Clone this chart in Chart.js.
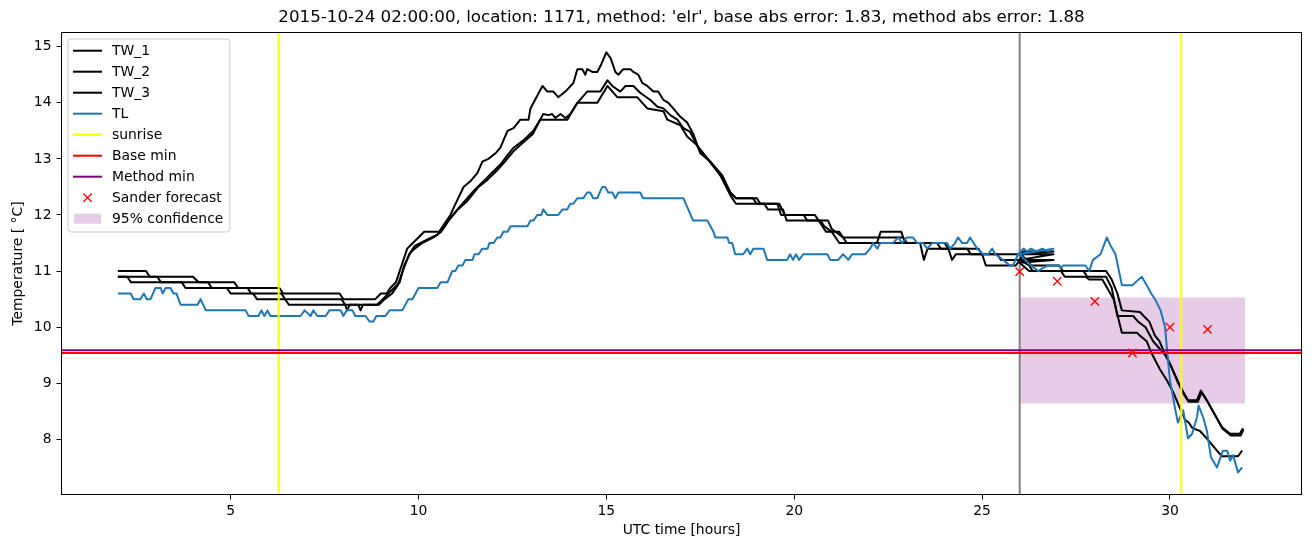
<!DOCTYPE html>
<html>
<head>
<meta charset="utf-8">
<script src="https://cdn.jsdelivr.net/npm/chart.js@4.4.1/dist/chart.umd.min.js"></script>
<style>
  html, body { margin: 0; padding: 0; background: #fff; }
  #wrap { width: 1311px; height: 547px; }
</style>
</head>
<body>
<div id="wrap"><canvas id="c" width="1311" height="547"></canvas></div>
<script>
// ---------------- data ----------------
const TITLE = "2015-10-24 02:00:00, location: 1171, method: 'elr', base abs error: 1.83, method abs error: 1.88";
const X_LABEL = "UTC time [hours]";
const Y_LABEL = "Temperature [ °C]";
const X_TICKS = [5, 10, 15, 20, 25, 30];
const Y_TICKS = [8, 9, 10, 11, 12, 13, 14, 15];
const X_MIN = 0.5, X_MAX = 33.5;
const Y_MIN = 7.018, Y_MAX = 15.253;

// [hour, temperature] ; observation part (2..27 h) followed by forecast-period part (26..32 h)
const TW_1 = [[2.0,11.0],[2.75,11.0],[2.85,10.9],[4.0,10.9],[4.15,10.8],[5.1,10.8],[5.2,10.7],[6.3,10.7],[6.4,10.6],[7.9,10.6],[8.0,10.5],[8.85,10.5],[9.0,10.6],[9.15,10.6],[9.25,10.7],[9.4,10.8],[9.55,11.1],[9.7,11.4],[9.85,11.5],[10.0,11.6],[10.15,11.7],[10.55,11.7],[10.7,11.85],[10.85,12.0],[10.95,12.15],[11.2,12.5],[11.38,12.6],[11.57,12.75],[11.7,12.95],[11.86,13.0],[12.05,13.1],[12.18,13.2],[12.37,13.5],[12.53,13.55],[12.71,13.7],[12.93,13.7],[12.98,13.9],[13.3,14.3],[13.43,14.2],[13.59,14.2],[13.72,14.1],[13.91,14.2],[14.12,14.35],[14.23,14.6],[14.36,14.6],[14.44,14.5],[14.49,14.6],[14.63,14.55],[14.76,14.55],[14.84,14.65],[15.0,14.9],[15.11,14.8],[15.24,14.55],[15.32,14.5],[15.45,14.6],[15.64,14.6],[15.72,14.55],[15.85,14.5],[15.96,14.35],[16.09,14.3],[16.25,14.2],[16.38,14.2],[16.52,14.05],[16.65,14.0],[16.78,13.9],[16.97,13.75],[17.15,13.65],[17.31,13.45],[17.5,13.1],[17.77,12.95],[18.09,12.7],[18.3,12.4],[18.45,12.3],[18.9,12.3],[19.0,12.2],[19.55,12.2],[19.65,12.0],[20.25,12.0],[20.35,11.9],[20.65,11.9],[20.75,11.8],[20.85,11.7],[21.2,11.7],[21.3,11.6],[22.9,11.6],[23.0,11.5],[24.0,11.5],[24.1,11.4],[24.9,11.4],[25.0,11.3],[26.0,11.3],[26.1,11.35],[26.9,11.35],
  [26.0,11.3],[26.2,11.2],[26.3,11.1],[27.05,11.1],[27.15,11.0],[28.3,11.0],[28.45,10.85],[28.6,10.6],[28.72,10.3],[29.2,10.27],[29.3,10.2],[29.45,10.1],[29.6,9.85],[29.72,9.75],[29.85,9.55],[30.0,9.35],[30.2,9.05],[30.35,8.85],[30.48,8.7],[30.72,8.7],[30.82,8.87],[30.98,8.7],[31.38,8.22],[31.6,8.1],[31.86,8.1],[31.94,8.2]];

const TW_2 = [[2.0,10.9],[2.25,10.9],[2.35,10.8],[3.7,10.8],[3.8,10.7],[4.9,10.7],[5.0,10.6],[6.35,10.6],[6.45,10.5],[7.95,10.5],[8.05,10.4],[8.9,10.4],[9.05,10.5],[9.2,10.6],[9.35,10.7],[9.5,10.8],[9.62,11.1],[9.8,11.35],[9.9,11.45],[10.2,11.55],[10.5,11.65],[10.7,11.8],[10.85,11.95],[11.1,12.15],[11.3,12.3],[11.5,12.45],[11.73,12.6],[11.95,12.75],[12.18,12.9],[12.35,13.05],[12.53,13.2],[12.79,13.33],[13.06,13.5],[13.24,13.7],[13.32,13.8],[13.46,13.78],[13.56,13.8],[13.64,13.73],[13.78,13.8],[13.91,13.73],[14.04,13.8],[14.23,14.0],[14.49,14.2],[14.84,14.2],[15.03,14.4],[15.16,14.3],[15.37,14.2],[15.51,14.3],[15.72,14.3],[15.9,14.18],[16.17,14.05],[16.36,13.93],[16.52,13.9],[16.7,13.78],[16.89,13.7],[17.05,13.55],[17.23,13.48],[17.45,13.2],[17.75,12.95],[18.1,12.65],[18.3,12.4],[18.45,12.3],[19.0,12.3],[19.1,12.2],[19.6,12.2],[19.75,12.0],[20.55,12.0],[20.65,11.9],[20.9,11.9],[21.0,11.75],[21.3,11.6],[21.4,11.5],[23.35,11.5],[23.45,11.2],[23.55,11.4],[24.1,11.4],[24.2,11.2],[24.3,11.3],[25.4,11.3],[25.5,11.2],[26.0,11.2],[26.1,11.3],[26.9,11.3],
  [26.0,11.2],[26.25,11.1],[26.35,11.0],[27.7,11.0],[27.8,10.9],[28.3,10.9],[28.45,10.7],[28.6,10.2],[29.02,10.2],[29.15,10.1],[29.35,10.0],[29.55,9.75],[29.72,9.62],[29.88,9.5],[30.03,9.3],[30.22,9.0],[30.37,8.8],[30.5,8.67],[30.74,8.67],[30.84,8.84],[31.0,8.67],[31.4,8.19],[31.62,8.07],[31.88,8.07],[31.96,8.18]];

const TW_3 = [[2.0,10.9],[3.05,10.9],[3.15,10.8],[4.4,10.8],[4.5,10.7],[5.45,10.7],[5.55,10.6],[5.6,10.6],[5.7,10.5],[6.45,10.5],[6.55,10.4],[8.05,10.4],[8.1,10.3],[8.17,10.4],[8.4,10.4],[8.46,10.3],[8.52,10.4],[8.95,10.4],[9.1,10.5],[9.3,10.6],[9.45,10.75],[9.58,11.0],[9.75,11.3],[9.9,11.4],[10.1,11.5],[10.4,11.6],[10.6,11.7],[10.8,11.9],[11.05,12.1],[11.3,12.25],[11.6,12.5],[11.84,12.63],[12.1,12.8],[12.3,12.95],[12.55,13.15],[12.8,13.3],[13.05,13.45],[13.24,13.7],[13.96,13.7],[14.23,14.0],[14.76,14.0],[15.03,14.3],[15.29,14.1],[15.82,14.1],[16.09,13.9],[16.52,13.85],[16.62,13.7],[16.97,13.6],[17.15,13.4],[17.4,13.25],[17.7,13.0],[18.0,12.75],[18.3,12.35],[18.45,12.2],[19.2,12.2],[19.3,12.1],[19.7,12.1],[19.8,11.9],[20.7,11.9],[20.8,11.8],[21.0,11.7],[21.2,11.5],[22.2,11.5],[22.3,11.7],[22.85,11.7],[22.95,11.5],[23.8,11.5],[23.9,11.4],[24.6,11.4],[24.7,11.3],[25.0,11.3],[25.1,11.1],[25.9,11.1],[26.0,11.2],[26.9,11.2],
  [26.0,11.15],[26.25,11.0],[27.1,11.0],[27.2,10.9],[27.75,10.9],[27.85,10.85],[28.2,10.85],[28.5,10.5],[28.72,9.9],[29.12,9.9],[29.2,9.85],[29.38,9.75],[29.5,9.55],[29.73,9.25],[29.92,9.05],[30.08,8.85],[30.27,8.55],[30.4,8.35],[30.5,8.3],[30.6,8.2],[30.8,8.15],[31.0,8.0],[31.25,7.8],[31.38,7.7],[31.81,7.7],[31.92,7.8]];

const TL = [[2.0,10.6],[2.34,10.6],[2.42,10.5],[2.6,10.5],[2.69,10.6],[2.77,10.5],[2.87,10.5],[3.0,10.7],[3.14,10.7],[3.19,10.6],[3.27,10.7],[3.4,10.7],[3.48,10.6],[3.56,10.6],[3.67,10.4],[4.12,10.4],[4.2,10.5],[4.34,10.3],[5.4,10.3],[5.48,10.2],[5.74,10.2],[5.82,10.3],[5.9,10.2],[5.98,10.3],[6.06,10.2],[6.86,10.2],[6.97,10.3],[7.13,10.2],[7.2,10.3],[7.31,10.2],[7.53,10.2],[7.63,10.3],[7.93,10.3],[8.0,10.2],[8.09,10.3],[8.24,10.3],[8.32,10.2],[8.59,10.2],[8.7,10.1],[8.8,10.1],[8.88,10.2],[9.12,10.2],[9.23,10.3],[9.57,10.3],[9.73,10.5],[9.84,10.5],[10.0,10.7],[10.5,10.7],[10.59,10.8],[10.77,10.8],[10.9,11.0],[10.98,11.0],[11.06,11.1],[11.17,11.1],[11.25,11.2],[11.44,11.2],[11.49,11.3],[11.6,11.3],[11.7,11.4],[11.84,11.4],[11.89,11.5],[12.0,11.5],[12.1,11.6],[12.18,11.6],[12.26,11.7],[12.37,11.7],[12.45,11.8],[12.9,11.8],[12.98,11.9],[13.06,11.9],[13.16,12.0],[13.27,12.0],[13.32,12.1],[13.43,12.0],[13.72,12.0],[13.83,12.1],[13.96,12.1],[14.04,12.2],[14.12,12.2],[14.23,12.3],[14.39,12.3],[14.49,12.4],[14.57,12.4],[14.65,12.3],[14.76,12.3],[14.89,12.5],[14.97,12.5],[15.05,12.4],[15.16,12.4],[15.24,12.3],[15.32,12.4],[15.9,12.4],[15.98,12.3],[17.05,12.3],[17.18,12.1],[17.31,11.9],[17.69,11.9],[17.77,11.8],[17.85,11.7],[17.9,11.6],[18.22,11.6],[18.27,11.5],[18.35,11.5],[18.43,11.3],[18.64,11.3],[18.75,11.4],[18.83,11.3],[18.91,11.4],[19.18,11.4],[19.28,11.2],[19.81,11.2],[19.89,11.3],[19.97,11.2],[20.05,11.3],[20.13,11.2],[20.24,11.3],[20.88,11.3],[20.96,11.2],[21.17,11.2],[21.3,11.3],[21.44,11.2],[21.54,11.3],[21.89,11.3],[22.02,11.4],[22.1,11.5],[22.21,11.4],[22.29,11.5],[22.63,11.5],[22.77,11.6],[22.87,11.5],[23.0,11.6],[23.16,11.6],[23.27,11.5],[23.43,11.5],[23.54,11.4],[23.67,11.5],[24.07,11.5],[24.15,11.4],[24.28,11.5],[24.36,11.6],[24.47,11.5],[24.6,11.5],[24.68,11.6],[24.87,11.4],[25.03,11.3],[25.16,11.3],[25.27,11.4],[25.35,11.3],[25.56,11.2],[25.74,11.1],[25.82,11.1],[25.96,11.3],[26.1,11.4],[26.2,11.35],[26.3,11.4],[26.45,11.35],[26.6,11.4],[26.75,11.35],[26.9,11.4],
  [26.0,11.3],[26.15,11.2],[26.3,11.1],[26.5,11.0],[26.6,11.05],[26.75,11.1],[27.05,11.1],[27.1,11.05],[27.15,11.1],[27.75,11.1],[27.85,11.0],[27.95,11.2],[28.15,11.3],[28.32,11.6],[28.42,11.45],[28.55,11.3],[28.72,10.75],[29.0,10.75],[29.25,10.9],[29.38,10.75],[29.5,10.6],[29.6,10.5],[29.75,10.3],[29.87,10.0],[29.92,9.6],[30.0,9.05],[30.13,8.57],[30.21,8.3],[30.35,8.52],[30.48,8.02],[30.59,8.1],[30.72,8.4],[30.76,8.6],[30.88,8.4],[30.98,8.16],[31.09,7.68],[31.25,7.5],[31.41,7.8],[31.52,7.8],[31.6,7.62],[31.68,7.72],[31.81,7.41],[31.92,7.5]];

const SUNRISE = [6.28, 30.3];
const FORECAST_START = 26.0;
const BASE_MIN = 9.54;
const METHOD_MIN = 9.59;
const SANDER_HOURS = [26, 27, 28, 29, 30, 31];
const SANDER_VALUES = [10.99, 10.82, 10.46, 9.54, 10.0, 9.96];
const CONF_HOURS = [26, 32];
const CONF_LOW = 8.64;
const CONF_HIGH = 10.53;

// ---------------- build datasets from the arrays ----------------
const pts = arr => arr.map(p => ({x: p[0], y: p[1]}));
const vlines = xs => xs.flatMap(v => [{x: v, y: Y_MIN}, {x: v, y: Y_MAX}, {x: v, y: null}]);
const hline = v => [{x: X_MIN, y: v}, {x: X_MAX, y: v}];
const LW = 2;
const FS = 13.9;      // 10 pt
const FS_TITLE = 16.7; // 12 pt
const lineDs = (label, data, color, order, kind) => ({
  label, data, borderColor: color, backgroundColor: color, borderWidth: LW,
  pointRadius: 0, fill: false, tension: 0, order, legendKind: kind,
  borderJoinStyle: 'round', spanGaps: false
});

const datasets = [
  lineDs('TW_1', pts(TW_1), '#000000', 80, 'line'),
  lineDs('TW_2', pts(TW_2), '#000000', 79, 'line'),
  lineDs('TW_3', pts(TW_3), '#000000', 78, 'line'),
  lineDs('TL', pts(TL), '#1f77b4', 70, 'line'),
  lineDs('sunrise', vlines(SUNRISE), '#ffff00', 60, 'line'),
  lineDs('Base min', hline(BASE_MIN), '#ff0000', 50, 'line'),
  lineDs('Method min', hline(METHOD_MIN), '#800080', 40, 'line'),
  {
    label: 'Sander forecast',
    data: SANDER_HOURS.map((h, i) => ({x: h, y: SANDER_VALUES[i]})),
    showLine: false, pointStyle: 'crossRot', pointRadius: 5.9, pointBorderWidth: 1.4,
    pointBorderColor: '#ff0000', borderColor: '#ff0000', backgroundColor: '#ff0000',
    order: 10, legendKind: 'cross'
  },
  {
    label: '95% confidence',
    data: CONF_HOURS.map(h => ({x: h, y: CONF_HIGH})),
    borderWidth: 0, borderColor: 'rgba(0,0,0,0)', pointRadius: 0,
    backgroundColor: 'rgba(128,0,128,0.2)', fill: {value: CONF_LOW},
    order: 100, legendKind: 'patch'
  },
  lineDs('', vlines([FORECAST_START]), '#808080', 90, null)
];

// ---------------- plugins ----------------
const frame = {
  id: 'frame',
  afterDatasetsDraw(chart) {
    const {ctx, chartArea: a} = chart;
    ctx.save();
    ctx.strokeStyle = '#000';
    ctx.lineWidth = 1;
    ctx.strokeRect(a.left, a.top, a.right - a.left, a.bottom - a.top);
    ctx.restore();
  }
};

const boxLegend = {
  id: 'boxLegend',
  afterDraw(chart) {
    const {ctx, chartArea: a} = chart;
    const items = chart.data.datasets.filter(d => d.legendKind);
    ctx.save();
    ctx.font = FS + 'px "DejaVu Sans"';
    const maxW = Math.max(...items.map(d => ctx.measureText(d.label).width));
    const left = a.left + 6.5, top = a.top + 6.5;
    const rowH = 21, firstRow = 11.7;
    const w = 44 + maxW + 6.5;
    const h = firstRow + rowH * (items.length - 1) + 13.3;
    const r = 3;
    ctx.beginPath();
    ctx.moveTo(left + r, top);
    ctx.lineTo(left + w - r, top); ctx.quadraticCurveTo(left + w, top, left + w, top + r);
    ctx.lineTo(left + w, top + h - r); ctx.quadraticCurveTo(left + w, top + h, left + w - r, top + h);
    ctx.lineTo(left + r, top + h); ctx.quadraticCurveTo(left, top + h, left, top + h - r);
    ctx.lineTo(left, top + r); ctx.quadraticCurveTo(left, top, left + r, top);
    ctx.closePath();
    ctx.fillStyle = 'rgba(255,255,255,0.8)';
    ctx.fill();
    ctx.strokeStyle = '#cccccc';
    ctx.lineWidth = 1;
    ctx.stroke();
    items.forEach((d, i) => {
      const y = top + firstRow + i * rowH;
      const x0 = left + 5, x1 = left + 34;
      if (d.legendKind === 'line') {
        ctx.strokeStyle = d.borderColor; ctx.lineWidth = LW;
        ctx.beginPath(); ctx.moveTo(x0, y); ctx.lineTo(x1, y); ctx.stroke();
      } else if (d.legendKind === 'cross') {
        const cx = (x0 + x1) / 2, s = 5.9 * Math.SQRT1_2;
        ctx.strokeStyle = d.pointBorderColor; ctx.lineWidth = 1.4;
        ctx.beginPath();
        ctx.moveTo(cx - s, y - s); ctx.lineTo(cx + s, y + s);
        ctx.moveTo(cx - s, y + s); ctx.lineTo(cx + s, y - s);
        ctx.stroke();
      } else if (d.legendKind === 'patch') {
        ctx.fillStyle = d.backgroundColor;
        ctx.fillRect(x0 + 1, y - 5, x1 - x0 - 2, 10);
      }
      ctx.fillStyle = '#000';
      ctx.textBaseline = 'middle';
      ctx.textAlign = 'left';
      ctx.fillText(d.label, left + 44, y + 0.5);
    });
    ctx.restore();
  }
};

Chart.defaults.font.family = '"DejaVu Sans", sans-serif';
Chart.defaults.font.size = FS;
Chart.defaults.color = '#000';

new Chart(document.getElementById('c'), {
  type: 'line',
  data: { datasets },
  options: {
    responsive: false,
    devicePixelRatio: 1,
    animation: false,
    events: [],
    layout: { padding: { left: 0, right: 9.5, top: 0, bottom: 0 } },
    elements: { line: { tension: 0 } },
    plugins: {
      legend: { display: false },
      tooltip: { enabled: false },
      title: {
        display: true, text: TITLE, fullSize: false, color: '#000',
        font: { size: FS_TITLE, weight: 'normal' },
        padding: { top: 7.6, bottom: 4.86 }
      }
    },
    scales: {
      x: {
        type: 'linear', min: X_MIN, max: X_MAX,
        afterBuildTicks: s => { s.ticks = X_TICKS.map(v => ({value: v})); },
        afterFit: s => { s.height = 52.5; },
        ticks: { color: '#000', padding: 4, maxRotation: 0, autoSkip: false, font: { size: FS } },
        grid: { display: true, drawOnChartArea: false, drawTicks: true, tickLength: 5, tickColor: '#000', lineWidth: 1 },
        border: { display: false },
        title: { display: true, text: X_LABEL, color: '#000', font: { size: FS }, padding: { top: 0, bottom: 8.7 } }
      },
      y: {
        type: 'linear', min: Y_MIN, max: Y_MAX,
        afterBuildTicks: s => { s.ticks = Y_TICKS.map(v => ({value: v})); },
        afterFit: s => { s.width = 61.5; },
        ticks: { color: '#000', padding: 5, autoSkip: false, font: { size: FS } },
        grid: { display: true, drawOnChartArea: false, drawTicks: true, tickLength: 5, tickColor: '#000', lineWidth: 1 },
        border: { display: false },
        title: { display: true, text: Y_LABEL, color: '#000', font: { size: FS }, padding: { top: 9.7, bottom: 0 } }
      }
    }
  },
  plugins: [frame, boxLegend]
});
</script>
</body>
</html>
